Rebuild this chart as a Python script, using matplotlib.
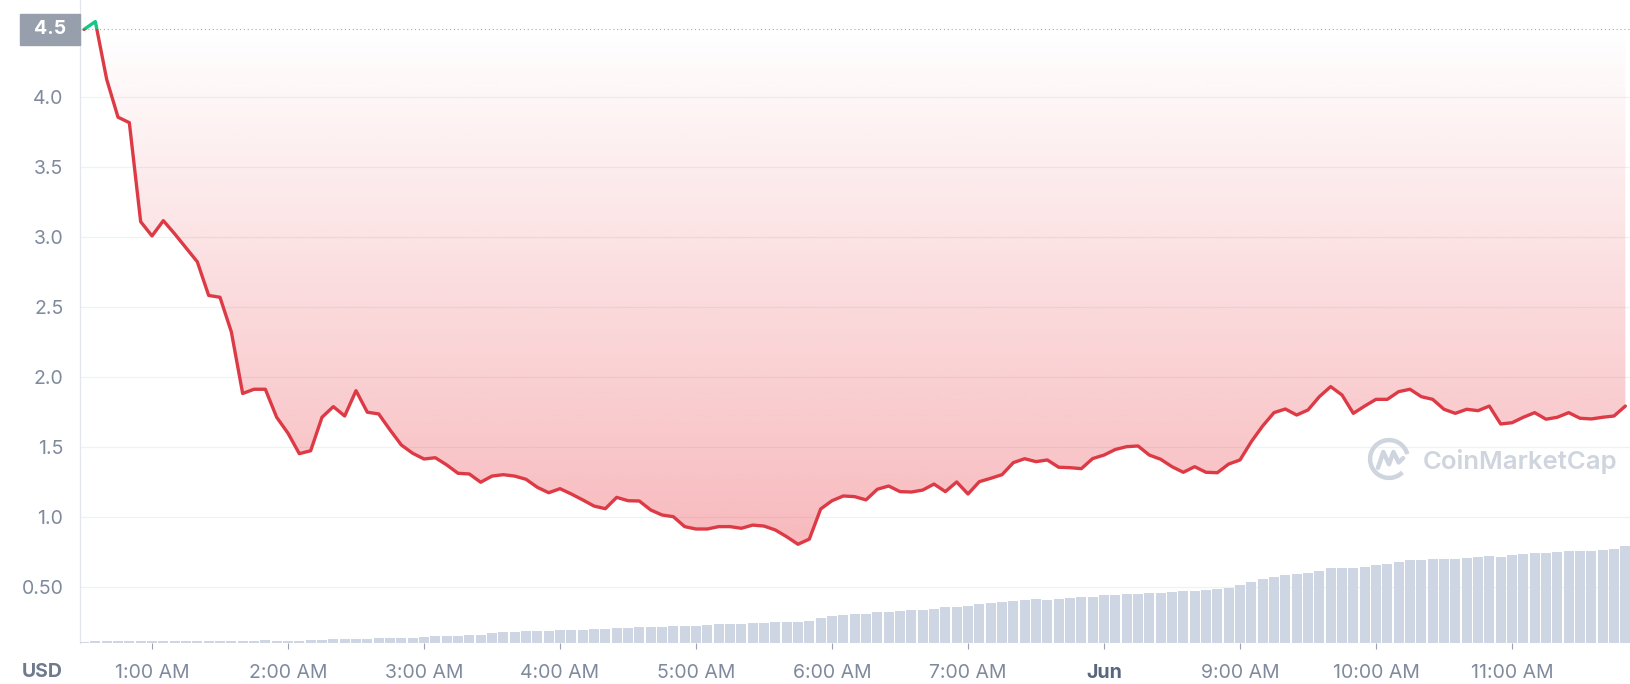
import numpy as np
import matplotlib
matplotlib.use('Agg')
import matplotlib.pyplot as plt
import matplotlib.transforms as mtransforms
from matplotlib.patches import Rectangle, Arc

plt.rcParams['font.family'] = ['Inter', 'DejaVu Sans']

# price (USD), one point every 5 minutes starting 00:30
price = [4.48, 4.536, 4.124, 3.853, 3.814, 3.107, 3.005, 3.114, 3.02, 2.92,
         2.82, 2.58, 2.567, 2.32, 1.88, 1.91, 1.91, 1.71, 1.596, 1.45,
         1.471, 1.71, 1.786, 1.719, 1.90, 1.746, 1.734, 1.62, 1.512, 1.453,
         1.412, 1.421, 1.37, 1.31, 1.305, 1.246, 1.29, 1.30, 1.29, 1.267,
         1.21, 1.171, 1.20, 1.162, 1.12, 1.076, 1.057, 1.138, 1.114, 1.112,
         1.048, 1.012, 1.0, 0.929, 0.912, 0.912, 0.929, 0.929, 0.917, 0.94,
         0.933, 0.905, 0.857, 0.803, 0.84, 1.055, 1.114, 1.148, 1.143, 1.12,
         1.196, 1.219, 1.179, 1.176, 1.19, 1.233, 1.179, 1.248, 1.162, 1.25,
         1.274, 1.30, 1.386, 1.414, 1.393, 1.405, 1.353, 1.35, 1.343, 1.415,
         1.44, 1.48, 1.50, 1.505, 1.44, 1.41, 1.357, 1.317, 1.357, 1.317,
         1.314, 1.376, 1.405, 1.536, 1.648, 1.743, 1.769, 1.726, 1.762, 1.857,
         1.929, 1.869, 1.738, 1.79, 1.838, 1.838, 1.893, 1.91, 1.857, 1.838,
         1.767, 1.738, 1.767, 1.757, 1.79, 1.662, 1.671, 1.71, 1.743, 1.696,
         1.71, 1.743, 1.703, 1.698, 1.71, 1.719, 1.79]

# volume bars (arbitrary units)
volume = [1.7, 2.7, 2.7, 2.7, 2.7, 2.7, 2.7, 2.7, 2.7, 2.7,
          2.7, 2.7, 2.7, 2.7, 2.7, 2.7, 3.3, 2.7, 2.7, 2.7,
          3.3, 3.3, 4.3, 4.3, 4.3, 4.3, 5.0, 5.0, 5.0, 5.0,
          6.0, 7.3, 7.3, 7.3, 8.3, 8.3, 10.7, 11.3, 11.7, 12.0,
          12.3, 12.7, 13.0, 13.3, 13.7, 14.0, 14.3, 15.3, 15.3, 16.3,
          16.3, 16.3, 17.3, 17.3, 17.3, 18.3, 19.7, 19.7, 19.7, 20.7,
          20.7, 21.7, 21.7, 21.7, 22.7, 25.3, 27.7, 28.7, 29.7, 29.7,
          31.7, 31.7, 32.7, 33.7, 33.7, 34.7, 36.3, 36.3, 37.7, 39.0,
          40.0, 41.0, 42.3, 43.7, 44.3, 43.3, 44.7, 45.7, 46.0, 46.7,
          48.7, 48.7, 49.7, 49.7, 50.7, 50.7, 51.3, 52.3, 52.3, 53.3,
          54.7, 55.3, 58.7, 61.3, 64.3, 66.7, 68.3, 69.3, 70.0, 72.3,
          75.7, 75.7, 75.7, 76.7, 78.3, 79.7, 81.3, 83.3, 83.3, 84.3,
          84.3, 84.3, 85.3, 86.3, 87.3, 86.7, 88.3, 89.3, 90.3, 90.3,
          91.3, 92.3, 92.3, 92.3, 93.3, 94.7, 97.7]

ytick_vals = [0.5, 1.0, 1.5, 2.0, 2.5, 3.0, 3.5, 4.0]
ytick_labels = ['0.50', '1.0', '1.5', '2.0', '2.5', '3.0', '3.5', '4.0']
xtick_vals = [1, 2, 3, 4, 5, 6, 7, 8, 9, 10, 11]
xtick_labels = ['1:00 AM', '2:00 AM', '3:00 AM', '4:00 AM', '5:00 AM', '6:00 AM',
                '7:00 AM', 'Jun', '9:00 AM', '10:00 AM', '11:00 AM']
base_label = '4.5'

price = np.array(price)
volume = np.array(volume)
t = 0.5 + np.arange(len(price)) * 5 / 60.0  # hours
base = price[0]

W, H = 1631, 684
red = '#dd3a46'
green = '#16c784'
grey = '#808a9d'

fig = plt.figure(figsize=(W / 100, H / 100), dpi=100)
ax = fig.add_axes([80 / W, (H - 643.3) / H, (W - 80) / W, 643.3 / H])

# gradient fill between the line and the opening price
y_fill = np.minimum(price, base)
fb = ax.fill_between(t, y_fill, base, color='none', lw=0)
grad = np.zeros((256, 1, 4))
grad[:, 0, 0] = 234 / 255
grad[:, 0, 1] = 57 / 255
grad[:, 0, 2] = 67 / 255
grad[:, 0, 3] = np.linspace(0.35, 0.0, 256)
im = ax.imshow(grad, extent=[t[0], t[-1], price.min(), base], origin='lower',
               aspect='auto', zorder=1, interpolation='bilinear')
im.set_clip_path(fb.get_paths()[0], ax.transData)

# line, green above the opening price and red below
below = Rectangle((0, -10), 100, base + 10, transform=ax.transData, visible=False)
above = Rectangle((0, base), 100, 10, transform=ax.transData, visible=False)
ax.add_patch(below)
ax.add_patch(above)
l1, = ax.plot(t, price, color=red, lw=2.4, solid_joinstyle='round',
              solid_capstyle='round', zorder=3)
l1.set_clip_path(below)
l2, = ax.plot(t, price, color=green, lw=2.4, solid_joinstyle='round',
              solid_capstyle='round', zorder=3)
l2.set_clip_path(above)

ax.axhline(base, color='#a3aab6', lw=0.8, ls=(0, (1, 2.5)), zorder=2)

ax.set_xlim(0.4706, 11.875)
ax.set_ylim(0.0957, 4.69)
ax.set_yticks(ytick_vals)
ax.set_yticklabels(ytick_labels)
ax.set_xticks(xtick_vals)
ax.set_xticklabels(xtick_labels)
ax.yaxis.grid(True, color='#eff2f5', lw=0.9)
ax.set_axisbelow(True)
ax.tick_params(axis='y', length=0, pad=12, labelsize=14, labelcolor=grey)
ax.tick_params(axis='x', length=4, width=0.8, color='#9aa2b0', pad=11,
               labelsize=14, labelcolor=grey)
for lab in ax.get_xticklabels():
    if lab.get_text() == 'Jun':
        lab.set_fontweight('bold')
        lab.set_color('#58667e')
for s in ['top', 'right', 'bottom']:
    ax.spines[s].set_visible(False)
ax.spines['left'].set_color('#e3e7ec')
ax.spines['left'].set_linewidth(0.9)

# volume bars
ax2 = ax.twinx()
ax2.bar(t, volume, width=5 / 60 * 0.9, color='#cfd6e3', lw=0, zorder=2)
ax2.set_ylim(0, 643.3)
ax2.set_xlim(0.4706, 11.875)
ax2.yaxis.set_visible(False)
for s in ax2.spines.values():
    s.set_visible(False)

# opening price tag
blend = mtransforms.blended_transform_factory(fig.transFigure, ax.transData)
tag = Rectangle((20 / W, base - 0.111), 60 / W, 0.221, transform=blend,
                color='#979fad', clip_on=False, zorder=5)
ax.add_patch(tag)
ax.text(50 / W, base, base_label, transform=blend, color='white', fontsize=14,
        fontweight='bold', ha='center', va='center', zorder=6, clip_on=False)

fig.text(63 / W, 1 - 672 / H, 'USD', ha='right', va='center', fontsize=14,
         fontweight='bold', color='#6f7a8e')

# watermark
wm = '#cfd5de'
fig.text(1423 / W, 1 - 462 / H, 'CoinMarketCap', ha='left', va='center',
         fontsize=18.5, fontweight='semibold', color=wm)
lax = fig.add_axes([1367 / W, 1 - 481 / H, 44 / W, 44 / H])
lax.set_xlim(0, 1)
lax.set_ylim(0, 1)
lax.axis('off')
lax.add_patch(Arc((0.5, 0.5), 0.86, 0.86, theta1=15, theta2=315, color=wm, lw=3.2))
lax.plot([0.25, 0.37, 0.5, 0.6, 0.72, 0.82], [0.3, 0.66, 0.38, 0.66, 0.42, 0.52],
         color=wm, lw=3.2, solid_joinstyle='round', solid_capstyle='round')

fig.savefig('out.png', dpi=100)
